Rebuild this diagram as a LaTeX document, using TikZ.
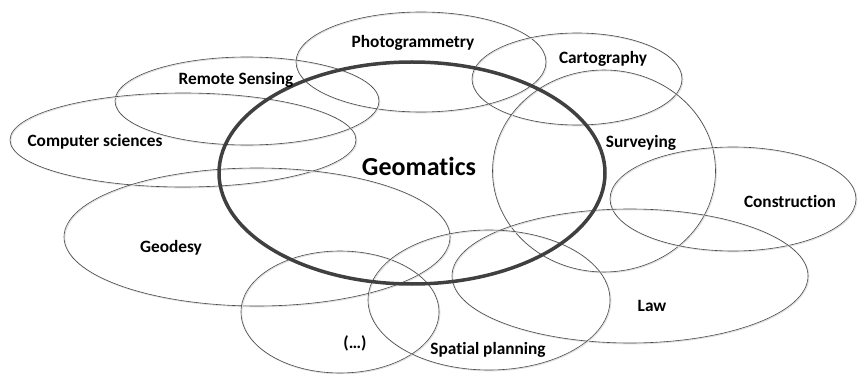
\documentclass[tikz,border=0pt]{standalone}
\usepackage{fontspec}
\setmainfont[Ligatures=NoCommon]{Carlito}
\usetikzlibrary{shapes.geometric}
\begin{document}
\begin{tikzpicture}[x=1pt,y=-1pt,
  ring/.style={ellipse, draw=black!72, line width=0.6pt, inner sep=0pt, outer sep=0pt,
    preaction={draw=black!12, line width=1.1pt, transform canvas={shift={(0.8pt,-0.8pt)}}}},
  core/.style={ellipse, draw=black!75, line width=3.5pt, inner sep=0pt, outer sep=0pt},
  lbl/.style={font=\bfseries\fontsize{17.3}{19}\selectfont, inner sep=0pt},
  big/.style={font=\bfseries\fontsize{26}{28}\selectfont, inner sep=0pt}]
\useasboundingbox (0,0) rectangle (859,374);
% rings
\node[ring, minimum width=250pt, minimum height=100pt] (photo) at (421,62) {};
\node[ring, minimum width=210pt, minimum height=92pt] (carto) at (577,79) {};
\node[ring, minimum width=264pt, minimum height=88pt] (remote) at (247,101) {};
\node[ring, minimum width=346pt, minimum height=94pt] (comp) at (183,140) {};
\node[ring, minimum width=223pt, minimum height=202pt] (survey) at (604,171) {};
\node[ring, minimum width=246pt, minimum height=104pt] (constr) at (733,199) {};
\node[ring, minimum width=386pt, minimum height=138pt] (geodesy) at (257,237) {};
\node[ring, minimum width=356pt, minimum height=134pt] (law) at (630,276) {};
\node[ring, minimum width=198pt, minimum height=122pt] (etc) at (340,312) {};
\node[ring, minimum width=242pt, minimum height=140pt] (spatial) at (489,300) {};
\node[core, minimum width=386pt, minimum height=222pt] (geomatics) at (412,173) {};
% labels
\node[lbl] (lphoto) at (413,43) {Photogrammetry};
\node[lbl] (lremote) at (236,80) {Remote Sensing};
\node[lbl] (lcomp) at (95,142) {Computer sciences};
\node[big] (lgeo) at (419,166) {Geomatics};
\node[lbl] (lcarto) at (603,59) {Cartography};
\node[lbl] (lsurvey) at (641,143) {Surveying};
\node[lbl] (lconstr) at (790,201) {Construction};
\node[lbl] (lgeod) at (171,248) {Geodesy};
\node[lbl] (letc) at (355,343) {(…)};
\node[lbl] (llaw) at (652,306) {Law};
\node[lbl] (lspatial) at (488,350) {Spatial planning};
\end{tikzpicture}
\end{document}
